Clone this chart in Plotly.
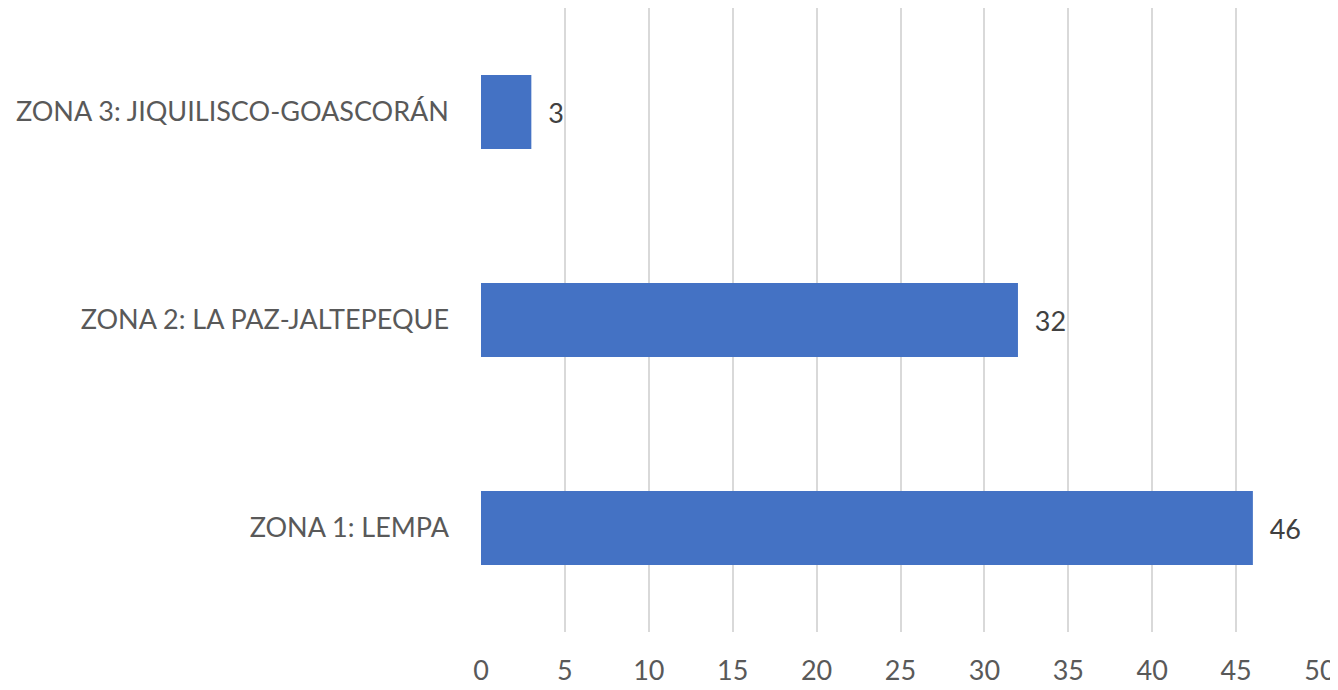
import plotly.graph_objects as go

categories = ["ZONA 1: LEMPA", "ZONA 2: LA PAZ-JALTEPEQUE", "ZONA 3: JIQUILISCO-GOASCORÁN"]
values = [46, 32, 3]
tick_vals = [0, 5, 10, 15, 20, 25, 30, 35, 40, 45, 50]

fig = go.Figure(go.Bar(
    x=values, y=categories, orientation="h",
    marker=dict(color="#4472C4", line=dict(width=0)),
    text=[str(v) for v in values],
    texttemplate="  %{text}",
    textposition="outside",
    textfont=dict(family="Lato", size=27, color="#404040"),
    cliponaxis=False,
))

# page body has an 8px margin, so the figure is sized/positioned to compensate
fig.update_layout(
    width=1330, height=682,
    margin=dict(l=473, r=18, t=0, b=58, autoexpand=False),
    paper_bgcolor="white", plot_bgcolor="white",
    bargap=0.645,
    showlegend=False,
    font=dict(family="Lato", size=27, color="#595959"),
)
fig.update_xaxes(
    range=[0, 50], tickvals=tick_vals,
    showgrid=True, gridcolor="#D9D9D9", gridwidth=1.5,
    zeroline=False, showline=False, automargin=False,
    ticks="", ticklabelstandoff=20,
    tickfont=dict(family="Lato", size=27, color="#595959"),
)
fig.update_yaxes(
    showgrid=False, zeroline=False, showline=False, automargin=False,
    ticks="", ticklabelstandoff=31,
    tickfont=dict(family="Lato", size=27, color="#595959"),
)

fig.write_html("out.html")
